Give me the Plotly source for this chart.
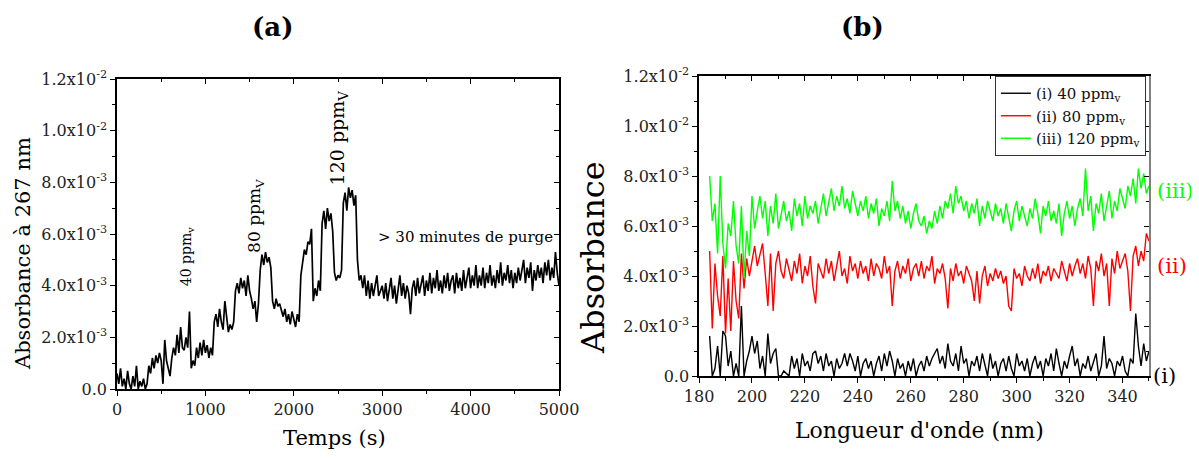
import plotly.graph_objects as go

# ---------------- data (absorbance in units of 1e-3) ----------------
TIME_STEP = 20  # s, sampling of panel (a)
ABS_267 = [
    # 0-340 s
    0.6, 0.2, 0.8, 0.1, 0.4, 0.0, 0.7, 0.2, 0.0, 0.5, 0.1, 0.9, 0.0, 0.3, 0.1, 0.4, 0.0, 0.2,
    # 360-500
    0.9, 0.6, 1.2, 0.8, 1.3, 1.0, 1.4, 1.1,
    # 520
    0.2,
    # 540-620
    1.9, 1.1, 0.8, 0.5, 1.2,
    # 640-820
    1.6, 1.3, 2.1, 1.4, 2.4, 1.6, 1.5, 2.0, 1.6, 3.0,
    # 840-1100
    0.8, 1.1, 0.9, 1.6, 1.2, 1.8, 1.3, 1.9, 1.4, 1.7, 1.2, 1.6, 1.3, 2.6,
    # 1120-1320
    2.9, 2.4, 3.1, 2.6, 2.3, 3.4, 2.7, 2.2, 2.5, 2.3, 2.6,
    # 1340-1500
    3.8, 4.1, 3.7, 4.3, 3.9, 4.2, 3.6, 4.4, 3.8,
    # 1520-1600
    3.5, 3.1, 3.4, 2.6, 3.3,
    # 1620-1740
    4.6, 5.2, 4.8, 5.3, 4.9, 5.1, 4.7,
    # 1760-1860
    3.4, 3.1, 3.5, 3.2, 3.3, 3.0,
    # 1880-2060
    2.8, 3.1, 2.6, 2.9, 2.5, 3.0, 2.7, 2.4, 2.9, 2.6,
    # 2080-2200
    4.4, 5.0, 5.4, 5.2, 5.7, 5.6, 6.2,
    # 2220-2300
    3.4, 3.9, 3.6, 4.2, 3.8,
    # 2320-2440
    6.4, 6.9, 6.2, 7.0, 6.5, 6.8, 6.1,
    # 2460-2540
    4.5, 4.2, 4.4, 4.3, 4.6,
    # 2560-2700
    7.2, 7.6, 6.9, 7.8, 7.4, 7.7, 7.1, 7.5,
    # 2720-2760
    5.0, 4.2, 4.4,
    # 2780-4960 (purge)
    3.9, 4.4, 3.6, 4.2, 3.5, 4.1, 3.6, 4.0, 4.4, 3.6, 3.8,
    4.0, 3.5, 4.1, 3.4, 3.9, 4.3, 3.5, 4.0, 3.3, 3.9, 4.4,
    3.6, 4.1, 3.5, 4.0, 3.7, 2.9, 3.9, 4.2, 3.6, 4.3, 3.7,
    4.1, 4.4, 3.6, 4.2, 3.8, 4.5, 3.7, 4.3, 3.9, 4.6, 3.8,
    4.2, 3.7, 4.4, 3.9, 4.5, 3.8, 4.2, 4.4, 3.7, 4.5, 3.9,
    4.3, 3.8, 4.6, 3.9, 4.3, 4.7, 3.9, 4.4, 4.0, 4.8, 3.9,
    4.4, 4.0, 4.7, 3.9, 4.5, 4.1, 4.8, 4.0, 4.4, 3.9, 4.6,
    4.1, 4.9, 4.0, 4.5, 4.2, 4.8, 4.1, 4.6, 3.9, 4.5, 4.1,
    4.7, 4.2, 4.6, 5.0, 4.1, 4.7, 4.3, 4.9, 3.8, 4.6, 4.2,
    4.8, 4.3, 4.7, 4.1, 4.9, 4.4, 5.0, 4.2, 4.7, 4.3, 5.3,
    # 4980-5000
    4.5, 4.0,
]
TIME_S = [i * TIME_STEP for i in range(len(ABS_267))]

WAVELENGTH_NM = list(range(184, 351))
ABS_40 = [
    1.6, 0.0, 0.3, 1.2, 0.0, 1.8, 1.6, 0.4, 1.0, 0.0,
    0.5, 0.0, 2.8, 0.0, 0.6, 1.0, 1.6, 0.9, 1.4, 0.3,
    0.8, 0.0, 1.7, 0.5, 0.9, 1.1, 0.0, 0.0, 0.2, 0.1,
    0.0, 0.8, 0.3, 0.7, 0.0, 0.9, 0.4, 0.6, 0.2, 0.9,
    1.0, 0.5, 0.8, 0.2, 0.9, 0.4, 0.6, 0.0, 0.7, 0.3,
    0.5, 0.9, 0.4, 0.9, 0.6, 0.2, 0.8, 0.0, 0.5, 0.7,
    0.3, 0.6, 0.0, 0.5, 0.8, 0.2, 0.9, 0.4, 1.0, 0.6,
    0.0, 0.7, 0.3, 0.5, 0.0, 0.6, 0.2, 0.7, 0.0, 0.4,
    0.6, 0.2, 0.8, 0.4, 0.7, 0.9, 1.1, 0.5, 0.8, 0.3,
    1.3, 0.6, 0.4, 0.9, 0.2, 1.2, 0.5, 0.7, 0.0, 0.6,
    0.4, 0.8, 0.2, 0.9, 0.5, 0.0, 0.9, 0.3, 0.6, 0.0,
    0.5, 0.7, 0.2, 0.8, 0.3, 0.0, 0.9, 0.4, 0.6, 0.2,
    0.7, 0.0, 0.5, 0.8, 0.3, 0.6, 0.0, 0.7, 0.4, 0.9,
    0.2, 1.1, 0.5, 0.0, 0.6, 0.3, 0.8, 1.2, 0.4, 0.7,
    0.0, 0.5, 0.3, 0.8, 0.2, 0.6, 0.9, 0.0, 0.4, 1.6,
    0.3, 0.7, 0.5, 0.0, 0.6, 0.4, 0.8, 0.2, 0.0, 0.7,
    0.5, 2.5, 1.2, 0.4, 1.3, 0.6, 1.0,
]
ABS_80 = [
    5.0, 1.9, 4.5, 3.2, 2.4, 4.8, 1.7, 3.9, 1.8, 4.6,
    3.0, 2.3, 4.9, 3.5, 4.7, 4.0, 4.6, 5.2, 4.4, 4.8,
    5.3, 4.1, 2.8, 4.9, 2.6, 4.5, 5.0, 4.2, 3.9, 4.7,
    4.3, 3.8, 4.6, 4.1, 4.9, 3.7, 4.4, 4.0, 4.8, 3.6,
    2.9, 4.5, 4.2, 3.9, 4.7, 4.1, 4.6, 3.8, 4.4, 5.0,
    4.0, 4.3, 3.7, 4.8, 4.2, 4.5, 3.9, 4.6, 4.1, 4.4,
    3.8, 4.7, 4.0, 4.5, 4.3, 3.9, 4.8, 4.1, 4.4, 2.8,
    4.2, 4.6, 3.9, 4.4, 4.1, 4.7, 3.8, 4.3, 4.5, 4.0,
    4.6, 3.9, 4.4, 4.2, 4.8, 3.7, 4.3, 4.1, 4.5, 3.9,
    2.7, 4.3, 3.8, 4.5, 4.0, 4.2, 3.7, 4.4, 4.1, 3.8,
    3.0, 4.2, 2.9, 4.0, 4.4, 3.6, 4.1, 3.8, 4.3, 3.9,
    4.2, 3.7, 4.0, 2.8, 2.6, 4.3, 3.9, 4.1, 3.6, 4.4,
    4.0, 3.8, 4.3, 3.9, 4.5, 3.7, 4.2, 4.0, 4.4, 3.8,
    4.3, 4.1, 3.9, 4.6, 4.2, 3.8, 4.5, 4.0, 4.4, 4.7,
    4.1, 4.5, 3.9, 4.8, 4.3, 2.8, 4.6, 4.2, 4.9, 4.0,
    4.5, 2.8, 4.7, 4.1, 5.0, 4.3, 4.6, 4.9, 4.2, 2.6,
    4.8, 5.2, 4.4, 5.0, 4.6, 5.7, 5.4,
]
ABS_120 = [
    8.0, 6.2, 6.9, 4.9, 8.0, 5.3, 4.3, 6.1, 5.6, 7.0,
    5.2, 4.5, 6.8, 3.9, 5.8, 4.8, 7.2, 5.9, 6.6, 7.2,
    6.3, 7.0, 5.6, 6.8, 6.1, 7.3, 5.9, 6.5, 7.0, 6.2,
    6.6, 5.8, 7.1, 6.4, 6.9, 6.0, 7.2, 6.3, 6.8, 6.5,
    7.0, 6.1, 6.7, 7.3, 6.4, 6.9, 7.5, 6.6, 7.2, 6.8,
    7.6, 6.7, 7.1, 6.5, 7.4, 6.9, 6.4, 7.0, 6.6, 7.2,
    6.3, 6.9, 6.5, 7.1, 6.0, 6.7, 6.4, 7.0, 6.2, 7.8,
    6.6, 7.0, 6.3, 6.8, 6.1, 6.6, 5.9, 6.5, 6.9, 6.2,
    6.0, 6.4, 5.7, 6.2, 5.9, 6.6, 6.1, 6.8, 6.3, 7.0,
    6.7, 7.3, 6.5, 7.6, 6.9, 7.2, 6.6, 7.0, 6.3, 6.9,
    6.5, 7.1, 6.0, 6.8, 6.3, 7.0, 6.6, 6.2, 6.9, 6.4,
    6.7, 6.1, 6.9, 6.3, 5.8, 6.6, 7.0, 6.2, 6.8, 6.4,
    6.0, 6.7, 6.3, 7.1, 6.5, 5.7, 6.8, 6.4, 7.0, 6.2,
    6.6, 6.1, 6.9, 5.6, 6.5, 7.0, 6.3, 6.8, 6.0, 6.7,
    7.1, 6.4, 8.3, 6.6, 7.2, 5.8, 6.9, 6.5, 7.3, 6.2,
    6.8, 7.4, 6.3, 7.0, 6.6, 7.5, 7.1, 6.7, 7.6, 7.2,
    7.9, 6.9, 8.3, 7.5, 8.1, 7.3, 7.6,
]

SERIES_NAMES = ["(i) 40 ppm<sub>v</sub>", "(ii) 80 ppm<sub>v</sub>", "(iii) 120 ppm<sub>v</sub>"]
SERIES_TAGS = ["(i)", "(ii)", "(iii)"]
SERIES_COLORS = ["#000000", "#FF0000", "#00FF00"]

Y_TICK_VALS = [0, 2, 4, 6, 8, 10, 12]
Y_TICK_TEXT = ["0.0", "2.0x10<sup>-3</sup>", "4.0x10<sup>-3</sup>", "6.0x10<sup>-3</sup>",
               "8.0x10<sup>-3</sup>", "1.0x10<sup>-2</sup>", "1.2x10<sup>-2</sup>"]
Y_MINOR = [1, 3, 5, 7, 9, 11]
XA_TICKS = [0, 1000, 2000, 3000, 4000, 5000]
XA_MINOR = [500, 1500, 2500, 3500, 4500]
XB_TICKS = [180, 200, 220, 240, 260, 280, 300, 320, 340]
XB_MINOR = [190, 210, 230, 250, 270, 290, 310, 330, 350]

FONT = "DejaVu Serif"

fig = go.Figure()

fig.add_trace(go.Scatter(x=TIME_S, y=ABS_267, mode="lines", line=dict(color="black", width=1.7),
                         showlegend=False, xaxis="x", yaxis="y"))
for name, col, ys in zip(SERIES_NAMES, SERIES_COLORS, [ABS_40, ABS_80, ABS_120]):
    fig.add_trace(go.Scatter(x=WAVELENGTH_NM, y=ys, mode="lines", name=name,
                             line=dict(color=col, width=1.4), xaxis="x2", yaxis="y2"))
# invisible traces to activate mirrored (top/right) axes
fig.add_trace(go.Scatter(x=[None], y=[None], showlegend=False, xaxis="x3", yaxis="y3"))
fig.add_trace(go.Scatter(x=[None], y=[None], showlegend=False, xaxis="x4", yaxis="y4"))

tickfont = dict(family=FONT, size=16, color="#222")


def base_axis(rng, tv, tt, minor_vals, **kw):
    d = dict(range=rng, tickmode="array", tickvals=tv, showline=True, linecolor="black",
             linewidth=1.5, ticks="outside", ticklen=5, tickwidth=1.3, tickcolor="black",
             showgrid=False, zeroline=False, tickfont=tickfont,
             minor=dict(tickmode="array", tickvals=minor_vals, ticks="outside", ticklen=3,
                        tickwidth=1.1, tickcolor="black", showgrid=False))
    if tt is not None:
        d["ticktext"] = tt
    d.update(kw)
    return d


def mirror_axis(rng, tv, minor_vals, color="black", **kw):
    d = dict(range=rng, tickmode="array", tickvals=tv, showline=True, linecolor=color,
             linewidth=1.5, ticks="inside", ticklen=5, tickwidth=1.3, tickcolor="black",
             showgrid=False, zeroline=False, showticklabels=False,
             minor=dict(tickmode="array", tickvals=minor_vals, ticks="inside", ticklen=3,
                        tickwidth=1.1, tickcolor="black", showgrid=False))
    d.update(kw)
    return d


XA_DOM = [0.0, 0.4283]
XB_DOM = [0.5640, 1.0]
YA_DOM = [0.0, 0.9904]
YB_DOM = [0.0415, 1.0]

# the page adds an 8px body margin: figure is 8px smaller and margins shifted accordingly
fig.update_layout(
    width=1191, height=451,
    margin=dict(l=109, r=50, t=68, b=70),
    paper_bgcolor="white", plot_bgcolor="white",
    font=dict(family=FONT, color="black"),
    xaxis=base_axis([0, 5000], XA_TICKS, None, XA_MINOR, domain=XA_DOM, anchor="y"),
    yaxis=base_axis([0, 12], Y_TICK_VALS, Y_TICK_TEXT, Y_MINOR, domain=YA_DOM, anchor="x"),
    xaxis2=base_axis([180, 350], XB_TICKS, None, XB_MINOR, domain=XB_DOM, anchor="y2"),
    yaxis2=base_axis([0, 12], Y_TICK_VALS, Y_TICK_TEXT, Y_MINOR, domain=YB_DOM, anchor="x2"),
    xaxis3=mirror_axis([0, 5000], XA_TICKS, XA_MINOR, overlaying="x", side="top", anchor="y"),
    yaxis3=mirror_axis([0, 12], Y_TICK_VALS, Y_MINOR, overlaying="y", side="right", anchor="x"),
    xaxis4=mirror_axis([180, 350], XB_TICKS, XB_MINOR, overlaying="x2", side="top", anchor="y2"),
    yaxis4=mirror_axis([0, 12], Y_TICK_VALS, Y_MINOR, color="#808080", overlaying="y2",
                       side="right", anchor="x2"),
    legend=dict(x=0.997, y=1.0, xanchor="right", yanchor="top", bgcolor="white",
                bordercolor="#333", borderwidth=1, font=dict(family=FONT, size=15, color="#111"),
                tracegroupgap=0),
)


def label(text, x, y, xref, yref, size, color="black", angle=0, xanchor="center"):
    return dict(text=text, x=x, y=y, xref=xref, yref=yref, showarrow=False,
                xanchor=xanchor, yanchor="middle", textangle=angle,
                font=dict(family=FONT, size=size, color=color))


ann = [
    # panel titles
    label("<b>(a)</b>", 0.1502, 1.1565, "paper", "paper", 26),
    label("<b>(b)</b>", 0.7219, 1.1565, "paper", "paper", 26),
    # axis titles
    label("Temps (s)", 0.2112, -0.1565, "paper", "paper", 21),
    label("Absorbance à 267 nm", -0.0911, 0.4345, "paper", "paper", 21, angle=-90),
    label("Longueur d'onde (nm)", 0.778, -0.131, "paper", "paper", 22),
    label("Absorbance", 0.4612, 0.4217, "paper", "paper", 32, angle=-90),
    # panel (a) annotations
    label("40 ppm<sub>v</sub>", 792, 5.1, "x", "y", 14, angle=-90),
    label("80 ppm<sub>V</sub>", 1572, 6.7, "x", "y", 17, angle=-90),
    label("120 ppm<sub>V</sub>", 2500, 9.7, "x", "y", 19, angle=-90),
    label("> 30 minutes de purge", 3937, 5.9, "x", "y", 15),
    # panel (b) series labels, just right of the plot area
    label(SERIES_TAGS[2], 1.0055, 7.4, "paper", "y2", 21, color=SERIES_COLORS[2], xanchor="left"),
    label(SERIES_TAGS[1], 1.0055, 4.4, "paper", "y2", 21, color=SERIES_COLORS[1], xanchor="left"),
    label(SERIES_TAGS[0], 1.0015, 0.0, "paper", "y2", 21, color=SERIES_COLORS[0], xanchor="left"),
]
fig.update_layout(annotations=ann)

fig.write_html("out.html")
